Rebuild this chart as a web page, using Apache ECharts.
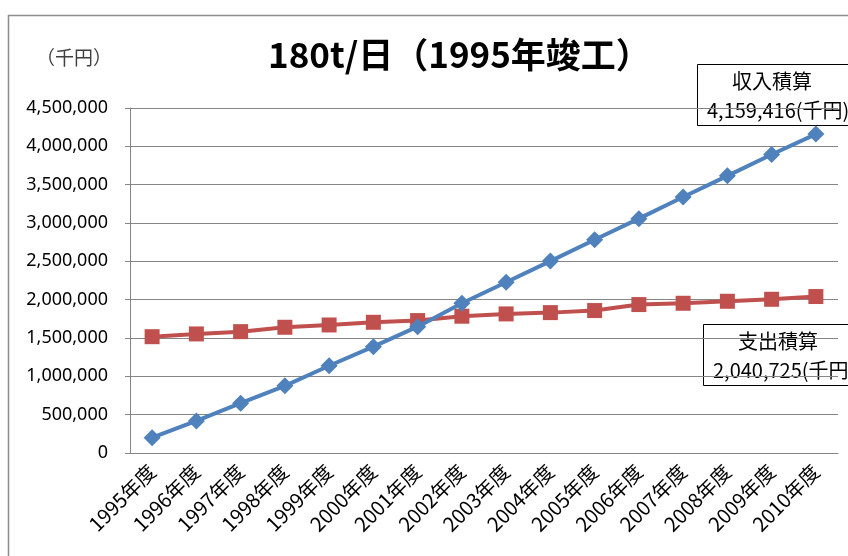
<!DOCTYPE html>
<html>
<head>
<meta charset="utf-8">
<script src="https://cdn.jsdelivr.net/npm/echarts@6/dist/echarts.min.js"></script>
<style>
  html, body { margin: 0; padding: 0; background: #fff; }
  #chart { width: 848px; height: 556px; }
</style>
</head>
<body>
<div id="chart"></div>
<script>
// 年度別の収入・支出の積算額（千円）
const years = ['1995年度', '1996年度', '1997年度', '1998年度', '1999年度', '2000年度', '2001年度', '2002年度',
               '2003年度', '2004年度', '2005年度', '2006年度', '2007年度', '2008年度', '2009年度', '2010年度'];
const incomeTotal = [200000, 418600, 650000, 876000, 1138000, 1387000, 1648000, 1953000,
                     2228000, 2503000, 2782000, 3057000, 3340000, 3615000, 3894000, 4159416];
const expenseTotal = [1517000, 1553000, 1583000, 1640000, 1670000, 1705000, 1727000, 1784000,
                      1814000, 1831000, 1858000, 1936000, 1953000, 1979000, 2005000, 2040725];
const yMin = 0;
const yMax = 4500000;
const yStep = 500000;
const titleText = '180t/日（1995年竣工）';
const unitText = '（千円）';
const incomeName = '収入積算';
const expenseName = '支出積算';

const JP = '"Noto Sans CJK JP", "Noto Sans", sans-serif';
const LAT = '"Noto Sans", "Noto Sans CJK JP", sans-serif';
const GRID = '#868686';
const fmt = v => Number(v).toLocaleString('en-US');
const last = arr => arr[arr.length - 1];

// 注記ボックス（系列名と最終年度の積算値）
function noteBox(x, y, name, value) {
  return {
    type: 'group', x: x, y: y, z: 100,
    children: [
      { type: 'rect', shape: { x: 0.5, y: 0.5, width: 160, height: 61 },
        style: { fill: '#fff', stroke: '#000', lineWidth: 1 } },
      { type: 'text', x: 75, y: 17,
        style: { text: name, font: '20px ' + JP, fill: '#000', align: 'center', verticalAlign: 'middle' } },
      { type: 'text', x: 10, y: 46,
        style: { text: fmt(value) + '(千円)', font: '20px ' + JP, fill: '#000', align: 'left', verticalAlign: 'middle' } }
    ]
  };
}

const chart = echarts.init(document.getElementById('chart'), null, { renderer: 'canvas' });
chart.setOption({
  animation: false,
  backgroundColor: '#fff',
  title: [
    { text: titleText, left: 268, top: 37, padding: 0,
      textStyle: { fontFamily: JP, fontWeight: 'bold', fontSize: 35, color: '#000' } },
    { text: unitText, left: 36, top: 48, padding: 0,
      textStyle: { fontFamily: JP, fontWeight: 'normal', fontSize: 19, color: '#404040' } }
  ],
  grid: { left: 130, right: 10, top: 108, bottom: 103, containLabel: false, outerBoundsMode: 'none' },
  xAxis: {
    type: 'category',
    data: years,
    boundaryGap: true,
    axisLine: { show: true, lineStyle: { color: GRID, width: 1 } },
    axisTick: { show: false },
    axisLabel: { rotate: 45, margin: 15, interval: 0, color: '#000', fontFamily: JP, fontSize: 20 }
  },
  yAxis: {
    type: 'value',
    min: yMin, max: yMax, interval: yStep,
    axisLine: { show: true, lineStyle: { color: GRID, width: 1 } },
    axisTick: { show: true, length: 5, lineStyle: { color: GRID } },
    splitLine: { show: true, lineStyle: { color: GRID, width: 1 } },
    axisLabel: { margin: 22, color: '#000', fontFamily: LAT, fontSize: 18, formatter: fmt }
  },
  series: [
    {
      name: incomeName, type: 'line', data: incomeTotal,
      symbol: 'diamond', symbolSize: 17, showAllSymbol: true,
      lineStyle: { color: '#4F81BD', width: 4 },
      itemStyle: { color: '#4F81BD' }, z: 3
    },
    {
      name: expenseName, type: 'line', data: expenseTotal,
      symbol: 'rect', symbolSize: 15, showAllSymbol: true,
      lineStyle: { color: '#C0504D', width: 4 },
      itemStyle: { color: '#C0504D' }, z: 2
    }
  ],
  graphic: [
    { type: 'rect', z: -1, silent: true,
      shape: { x: 8.5, y: 15.5, width: 900, height: 700 },
      style: { fill: 'none', stroke: '#8c8c8c', lineWidth: 1.5 } },
    noteBox(697, 64, incomeName, last(incomeTotal)),
    noteBox(703, 324, expenseName, last(expenseTotal))
  ]
});
</script>
</body>
</html>
